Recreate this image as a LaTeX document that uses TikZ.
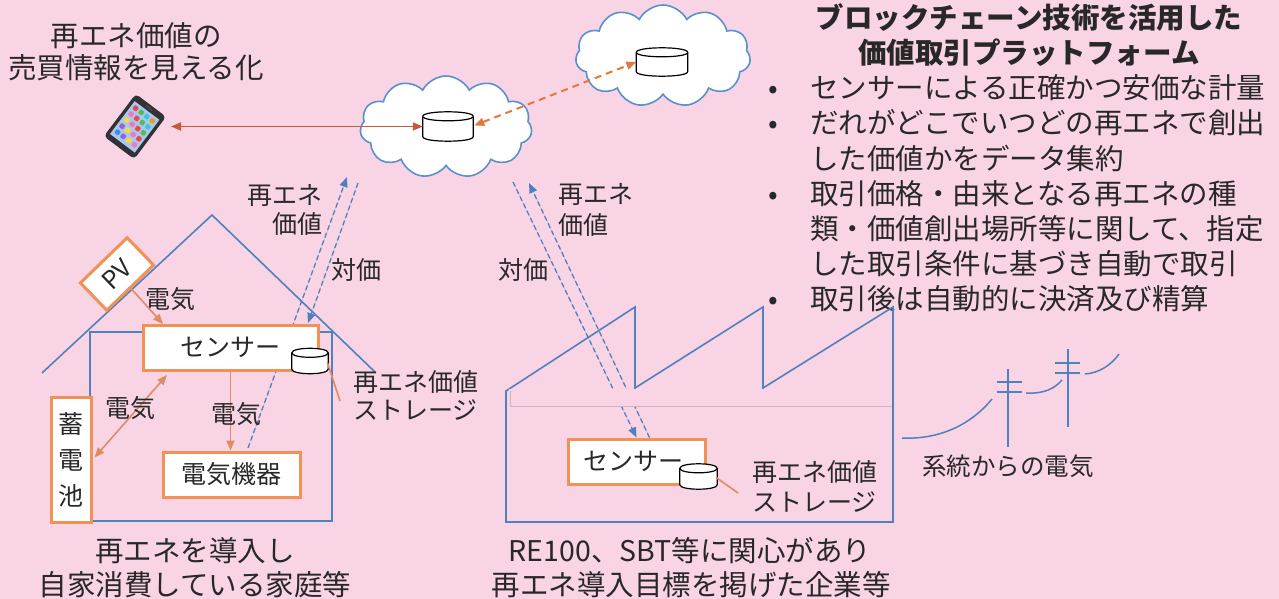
\documentclass[tikz,border=0pt]{standalone}
\usepackage{fontspec}
\setmainfont{Noto Sans CJK JP}
\usetikzlibrary{shapes.symbols,arrows.meta,calc}

\definecolor{bgpink}{RGB}{249,212,228}
\definecolor{ink}{RGB}{40,40,40}
\definecolor{lineblue}{RGB}{79,129,189}
\definecolor{cloudblue}{RGB}{90,145,205}
\definecolor{boxorange}{RGB}{240,145,85}
\definecolor{elec}{RGB}{221,140,100}
\definecolor{linkred}{RGB}{196,89,64}
\definecolor{linkorange}{RGB}{225,120,60}
\definecolor{beamgray}{RGB}{200,178,196}
\definecolor{phonebody}{RGB}{50,50,54}
\definecolor{phonescreen}{RGB}{170,200,235}
\definecolor{ic0}{RGB}{235,70,80}
\definecolor{ic1}{RGB}{245,150,40}
\definecolor{ic2}{RGB}{250,215,60}
\definecolor{ic3}{RGB}{80,190,90}
\definecolor{ic4}{RGB}{60,140,230}
\definecolor{ic5}{RGB}{240,120,190}
\definecolor{ic6}{RGB}{60,200,220}
\definecolor{ic7}{RGB}{150,100,210}

\newcommand\fsBig{\fontsize{28.5pt}{35pt}\selectfont}
\newcommand\fsMid{\fontsize{25pt}{37pt}\selectfont}
\newcommand\fsSmall{\fontsize{24.5pt}{30pt}\selectfont}

% database cylinder drawn inside the bounds of a named node
\newcommand\dbshape[1]{%
  \filldraw[dbline] let \p1=(#1.north west), \p2=(#1.south east) in
    ({\x1},{\y1-4.5pt}) -- ({\x1},{\y2+4.5pt})
    .. controls ({\x1},{\y2-1.5pt}) and ({\x2},{\y2-1.5pt}) .. ({\x2},{\y2+4.5pt})
    -- ({\x2},{\y1-4.5pt})
    .. controls ({\x2},{\y1+1.5pt}) and ({\x1},{\y1+1.5pt}) .. cycle;
  \draw[dbline] let \p1=(#1.north west), \p2=(#1.south east) in
    ({\x1},{\y1-4.5pt}) .. controls ({\x1},{\y1-10.5pt}) and ({\x2},{\y1-10.5pt}) .. ({\x2},{\y1-4.5pt});
}

\begin{document}
\begin{tikzpicture}[x=1pt,y=-1pt,
  big/.style={inner sep=0, text=ink, font=\fsBig, anchor=base},
  mid/.style={inner sep=0, text=ink, font=\fsMid, anchor=base},
  small/.style={inner sep=0, text=ink, font=\fsSmall, anchor=base},
  box/.style={draw=boxorange, line width=3pt, fill=white, inner sep=0, text=ink, font=\fsMid},
  dbspot/.style={inner sep=0, minimum width=#1},
  dbline/.style={draw=black, fill=white, line width=1.2pt},
  skycloud/.style={cloud, cloud puffs=11, cloud puff arc=125, aspect=1.7,
    draw=cloudblue, line width=1.6pt, fill=white, inner sep=0},
  wall/.style={draw=lineblue, line width=1.6pt},
  valueflow/.style={draw=lineblue, line width=1.3pt, dash pattern=on 5pt off 3pt,
    -{Triangle[length=10pt,width=8pt]}, fill=lineblue},
  power/.style={draw=elec, line width=1.6pt, -{Triangle[length=10pt,width=8pt]}},
  stub/.style={draw=elec, line width=1.6pt},
  wire/.style={draw=lineblue, line width=1.5pt},
]
\fill[bgpink] (0,0) rectangle (1279,599);
\useasboundingbox (0,0) rectangle (1279,599);

% ---------- captions ----------
\node[big] (capA1) at (136,47) {再エネ価値の};
\node[big] (capA2) at (136,79) {売買情報を見える化};

\node[big, font=\fsBig\bfseries] (title1) at (1029,29) {ブロックチェーン技術を活用した};
\node[big, font=\fsBig\bfseries] (title2) at (1029,64) {価値取引プラットフォーム};

\node[big] (dot1) at (773,99) {•};
\node[big] (dot2) at (773,134) {•};
\node[big] (dot3) at (773,204) {•};
\node[big] (dot4) at (773,309) {•};
\node[big, anchor=base west] (item1) at (810,99) {センサーによる正確かつ安価な計量};
\node[big, anchor=base west] (item2a) at (810,134) {だれがどこでいつどの再エネで創出};
\node[big, anchor=base west] (item2b) at (810,169) {した価値かをデータ集約};
\node[big, anchor=base west] (item3a) at (810,204) {取引価格・由来となる再エネの種};
\node[big, anchor=base west] (item3b) at (810,239) {類・価値創出場所等に関して、指定};
\node[big, anchor=base west] (item3c) at (810,274) {した取引条件に基づき自動で取引};
\node[big, anchor=base west] (item4) at (810,309) {取引後は自動的に決済及び精算};

\node[big] (homeA) at (195,561) {再エネを導入し};
\node[big] (homeB) at (195,595) {自家消費している家庭等};
\node[big] (firmA) at (690,561) {RE100、SBT等に関心があり};
\node[big] (firmB) at (691,595) {再エネ導入目標を掲げた企業等};

% ---------- clouds and storages ----------
\node[skycloud, minimum width=172pt, minimum height=102pt] (cloudA) at (446,127) {};
\node[skycloud, minimum width=175pt, minimum height=102pt] (cloudB) at (663,56) {};
\node[dbspot=50pt, minimum height=29pt] (db1) at (448,126.5) {};
\node[dbspot=51pt, minimum height=28pt] (db2) at (662,62) {};
\dbshape{db1}
\dbshape{db2}

% ---------- smartphone ----------
\node[inner sep=0, minimum width=38pt, minimum height=53pt, rotate=-37] (phone) at (135,126.5) {};
\begin{scope}[shift={(phone.center)}, rotate=-37]
  \fill[phonebody, rounded corners=4pt] (-19,-26.5) rectangle (19,26.5);
  \fill[phonescreen] (-15.5,-20) rectangle (15.5,21);
  \foreach \r in {0,...,4}{
    \foreach \k in {0,...,3}{
      \pgfmathtruncatemacro\idx{mod(\r*5+\k*3,8)}
      \fill[ic\idx, rounded corners=1pt] ({-13+\k*7},{-17.5+\r*7.5}) rectangle ++(5,5);
    }
  }
  \fill[black!70] (-4,-24) rectangle (4,-22.5);
\end{scope}
\coordinate (phoneR) at (171,126.5);

% data links around the clouds
\draw[linkred, line width=1.8pt, {Triangle[length=10pt,width=8pt]}-{Triangle[length=10pt,width=8pt]}]
  (phoneR) -- (db1.west);
\draw[linkorange, line width=2pt, dash pattern=on 7pt off 5pt,
  {Triangle[length=10pt,width=8pt]}-{Triangle[length=10pt,width=8pt]}]
  ($(db1.east)+(1,-1)$) -- (db2.west);

% ---------- house ----------
\draw[wall] (42,373) -- (212,215) -- (375,372);
\draw[wall] (90,332) rectangle (332,521);

\coordinate (hUpTop) at (347,177);
\coordinate (hDownTop) at (358,183);
\coordinate (hUpFoot) at (248,448);
\coordinate (hDownFoot) at (308,323);
\draw[valueflow] (hUpFoot) -- (hUpTop);
\draw[valueflow] (hDownTop) -- (hDownFoot);

\node[box, minimum width=175pt, minimum height=45pt] (sensorH) at (230.5,347.5) {センサー};
\node[box, minimum width=137pt, minimum height=45pt] (kiki) at (231.5,474.5) {電気機器};
\node[box, minimum width=40pt, minimum height=125pt, align=center,
  font=\fontsize{25pt}{36pt}\selectfont] (battery) at (71,459.5) {蓄\\電\\池};
\node[box, minimum width=65pt, minimum height=38pt, rotate=44] (pv) at (117,274) {PV};
\node[dbspot=36pt, minimum height=25pt] (dbH) at (310,361) {};
\dbshape{dbH}

\coordinate (sensorHin) at (163,324);
\coordinate (sensorHbl) at (167,375);
\draw[power] (pv.south) -- (sensorHin);
\draw[power, {Triangle[length=10pt,width=8pt]}-{Triangle[length=10pt,width=8pt]}] ($(battery.east)+(2,-2)$) -- (sensorHbl);
\draw[power] (sensorH.south) -- (sensorH.south |- kiki.north);
\coordinate (stubH) at (340,401);
\draw[stub] ($(dbH.east)+(-1,1)$) -- (stubH);

\node[mid] (elecPV) at (170,308.5) {電気};
\node[mid] (elecBat) at (130,417.5) {電気};
\node[mid] (elecDev) at (236,423) {電気};
\node[mid, anchor=base east] (valH1) at (323,204.5) {再エネ};
\node[mid, anchor=base east] (valH2) at (323,233.5) {価値};
\node[mid] (payH) at (356,279.5) {対価};
\node[mid, anchor=base west] (stoH1) at (353,391.5) {再エネ価値};
\node[mid, anchor=base west] (stoH2) at (353,419.5) {ストレージ};

% ---------- factory ----------
\draw[wall] (506,522) -- (506,391) -- (635,307) -- (635,388) -- (763,307) -- (763,388)
  -- (893,307) -- (893,522) -- cycle;

\node[box, minimum width=137pt, minimum height=45pt] (sensorF) at (636.5,461.5) {\hspace*{-6pt}センサー};
\coordinate (fDownTop) at (513,182);
\coordinate (fUpTop) at (529,183);
\coordinate (fUpFoot) at ($(sensorF.north)+(13,0)$);
\draw[valueflow] (fDownTop) -- (sensorF.north);
\draw[valueflow] (fUpFoot) -- (fUpTop);

% roof beam, laid over the flows
\fill[bgpink] (509,388.5) rectangle (892,405.5);
\draw[beamgray, line width=1pt] (510,391) -- (510,406) -- (892,406);

\node[dbspot=37pt, minimum height=25pt] (dbF) at (698.5,476.5) {};
\dbshape{dbF}
\coordinate (stubF) at (738,493);
\draw[stub] ($(dbF.east)+(-1,1)$) -- (stubF);

\node[mid, anchor=base west] (valF1) at (558,203.5) {再エネ};
\node[mid, anchor=base west] (valF2) at (558,234.5) {価値};
\node[mid] (payF) at (523,279.5) {対価};
\node[mid, anchor=base west] (stoF1) at (752,481.5) {再エネ価値};
\node[mid, anchor=base west] (stoF2) at (752,511.5) {ストレージ};

% ---------- grid power line ----------
\draw[wire] (902,438) .. controls (945,440) and (975,420) .. (992,399);
\draw[wire] (1008,369) -- (1008,447);
\draw[wire] (997,382) -- (1022,382);
\draw[wire] (997,392) -- (1022,392);
\draw[wire] (1026,393) .. controls (1045,394) and (1055,388) .. (1062,380);
\draw[wire] (1068,349) -- (1068,427);
\draw[wire] (1055,363) -- (1080,363);
\draw[wire] (1055,373) -- (1080,373);
\draw[wire] (1085,374) .. controls (1100,373) and (1112,364) .. (1119,354);
\node[small] (grid) at (1008,475) {系統からの電気};

\end{tikzpicture}
\end{document}
